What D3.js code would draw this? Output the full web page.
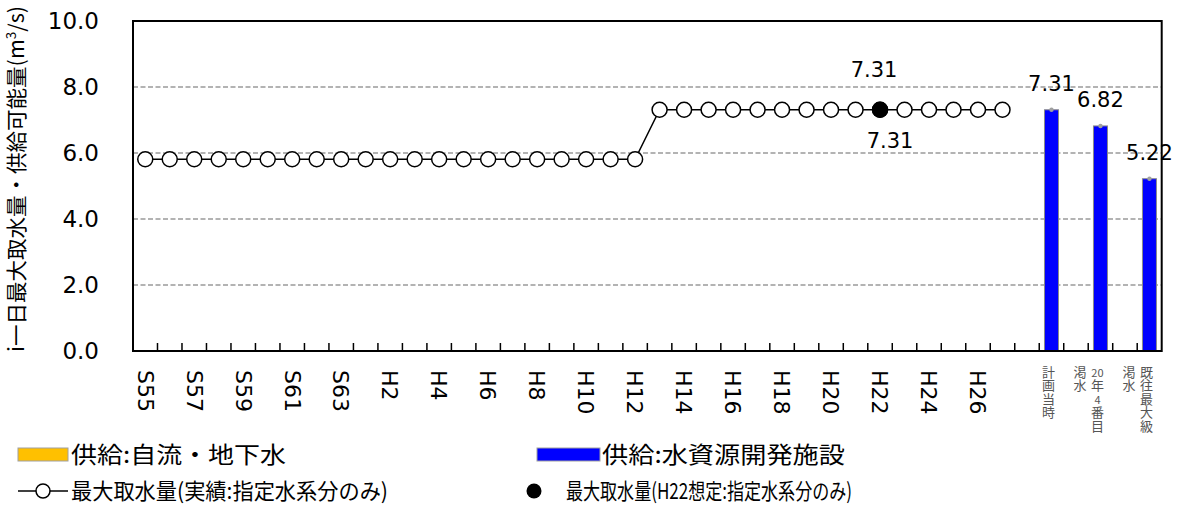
<!DOCTYPE html>
<html>
<head>
<meta charset="utf-8">
<script src="https://cdn.jsdelivr.net/npm/d3@7"></script>
<style>
  body { margin: 0; background: #fff; }
  svg { display: block; }
</style>
</head>
<body>
<div id="chart"></div>
<script>
// Water intake vs. supply capacity chart

var years = ["S55", "S56", "S57", "S58", "S59", "S60", "S61", "S62", "S63",
  "H1", "H2", "H3", "H4", "H5", "H6", "H7", "H8", "H9", "H10", "H11", "H12",
  "H13", "H14", "H15", "H16", "H17", "H18", "H19", "H20", "H21", "H22",
  "H23", "H24", "H25", "H26", "H27"];

var actualIntake = [5.81, 5.81, 5.81, 5.81, 5.81, 5.81, 5.81, 5.81, 5.81,
  5.81, 5.81, 5.81, 5.81, 5.81, 5.81, 5.81, 5.81, 5.81, 5.81, 5.81, 5.81,
  7.31, 7.31, 7.31, 7.31, 7.31, 7.31, 7.31, 7.31, 7.31, 7.31,
  7.31, 7.31, 7.31, 7.31, 7.31];

var assumedYear = "H22";
var assumedIntake = 7.31;

var supplyCats = ["計画当時", "20年4番目\n渇水", "既往最大級\n渇水"];
var supplyValues = [7.31, 6.82, 5.22];

var yTicks = [0, 2, 4, 6, 8, 10];

var legendItems = ["供給:自流・地下水", "供給:水資源開発施設",
  "最大取水量(実績:指定水系分のみ)", "最大取水量(H22想定:指定水系分のみ)"];

(function() {
  var W = 1179, H = 517;
  var left = 133, right = 1161.7, top = 21, bottom = 351;
  var numFont = "'DejaVu Sans', sans-serif";
  var jpFont = "'Noto Sans CJK JP', sans-serif";

  var svg = d3.select("#chart").append("svg")
    .attr("width", W)
    .attr("height", H);

  var domain = years.concat(["_g1", supplyCats[0], "_g2", supplyCats[1], "_g3", supplyCats[2]]);

  var x = d3.scaleBand().domain(domain).range([left, right]).padding(0);
  var y = d3.scaleLinear().domain([0, 10]).range([bottom, top]);
  var bw = x.bandwidth();
  var cx = function(k) { return x(k) + bw / 2; };

  // gridlines
  svg.append("g")
    .selectAll("line")
    .data(yTicks.filter(function(d) { return d > 0 && d < 10; }))
    .enter().append("line")
    .attr("x1", left).attr("x2", right)
    .attr("y1", function(d) { return y(d); })
    .attr("y2", function(d) { return y(d); })
    .attr("stroke", "#9a9a9a")
    .attr("stroke-width", 1.5)
    .attr("stroke-dasharray", "5,2.5");

  // y axis labels
  var yAxis = d3.axisLeft(y).tickValues(yTicks).tickFormat(d3.format(".1f"))
    .tickSize(0).tickPadding(34);
  var yg = svg.append("g")
    .attr("transform", "translate(" + left + ",0)")
    .call(yAxis);
  yg.select(".domain").remove();
  yg.selectAll("text")
    .attr("font-family", numFont)
    .attr("font-size", 23)
    .attr("fill", "#000");

  // x axis labels (years, every other)
  var xAxis = d3.axisBottom(x)
    .tickValues(years.filter(function(d, i) { return i % 2 === 0; }))
    .tickSize(0);
  var xg = svg.append("g")
    .attr("transform", "translate(0," + bottom + ")")
    .call(xAxis);
  xg.select(".domain").remove();
  xg.selectAll("text")
    .attr("font-family", numFont)
    .attr("font-size", 22)
    .attr("fill", "#000")
    .attr("text-anchor", "start")
    .attr("dy", "0.35em")
    .attr("transform", "translate(0,19) rotate(90)")
    .attr("x", 0).attr("y", 0);

  // bars
  svg.append("g")
    .selectAll("rect")
    .data(supplyValues)
    .enter().append("rect")
    .attr("x", function(d, i) { return cx(supplyCats[i]) - 7; })
    .attr("width", 14)
    .attr("y", function(d) { return y(d); })
    .attr("height", function(d) { return bottom - y(d); })
    .attr("fill", "#0000ff")
    .attr("stroke", "#8a8a8a")
    .attr("stroke-width", 1);

  svg.append("g")
    .selectAll("circle")
    .data(supplyValues)
    .enter().append("circle")
    .attr("cx", function(d, i) { return cx(supplyCats[i]); })
    .attr("cy", function(d) { return y(d); })
    .attr("r", 2.2)
    .attr("fill", "#a0a0a0");

  svg.append("g")
    .selectAll("text")
    .data(supplyValues)
    .enter().append("text")
    .attr("x", function(d, i) { return cx(supplyCats[i]); })
    .attr("y", function(d) { return y(d) - 26; })
    .attr("dy", "0.35em")
    .attr("text-anchor", "middle")
    .attr("font-family", numFont)
    .attr("font-size", 21)
    .text(function(d) { return d.toFixed(2); });

  // vertical category labels for bars (one text per line, stacked glyphs)
  supplyCats.forEach(function(cat) {
    var lines = cat.split("\n");
    lines.forEach(function(line, j) {
      var tokens = line.match(/\d+|./g);
      var colX = cx(cat) - 3 - j * 17.5;
      var t = svg.append("text")
        .attr("font-family", jpFont)
        .attr("font-size", 13)
        .attr("fill", "#555")
        .attr("text-anchor", "middle");
      tokens.forEach(function(tok, k) {
        t.append("tspan")
          .attr("x", colX)
          .attr("y", 377 + k * 13.4)
          .attr("font-size", /\d/.test(tok) ? 11 : 13)
          .text(tok);
      });
    });
  });

  // plot border
  svg.append("rect")
    .attr("x", left).attr("y", top)
    .attr("width", right - left).attr("height", bottom - top)
    .attr("fill", "none")
    .attr("stroke", "#000")
    .attr("stroke-width", 2);

  // x ticks at category boundaries
  svg.append("g")
    .selectAll("line")
    .data(domain.slice(1))
    .enter().append("line")
    .attr("x1", function(d) { return x(d); })
    .attr("x2", function(d) { return x(d); })
    .attr("y1", bottom)
    .attr("y2", bottom - 8)
    .attr("stroke", "#000")
    .attr("stroke-width", 1.5);

  // actual intake line
  var line = d3.line()
    .x(function(d, i) { return cx(years[i]); })
    .y(function(d) { return y(d); });

  svg.append("path")
    .datum(actualIntake)
    .attr("d", line)
    .attr("fill", "none")
    .attr("stroke", "#000")
    .attr("stroke-width", 1.5);

  svg.append("g")
    .selectAll("circle")
    .data(actualIntake)
    .enter().append("circle")
    .attr("cx", function(d, i) { return cx(years[i]); })
    .attr("cy", function(d) { return y(d); })
    .attr("r", 7.5)
    .attr("fill", "#fff")
    .attr("stroke", "#000")
    .attr("stroke-width", 1.5);

  svg.append("circle")
    .attr("cx", cx(assumedYear))
    .attr("cy", y(assumedIntake))
    .attr("r", 8.2)
    .attr("fill", "#000");

  var iA = years.indexOf(assumedYear);
  svg.append("text")
    .attr("x", cx(assumedYear) - 6)
    .attr("y", y(assumedIntake) - 40)
    .attr("dy", "0.35em")
    .attr("text-anchor", "middle")
    .attr("font-family", numFont)
    .attr("font-size", 21)
    .text(assumedIntake.toFixed(2));

  svg.append("text")
    .attr("x", cx(years[iA]) + 10)
    .attr("y", y(actualIntake[iA]) + 31)
    .attr("dy", "0.35em")
    .attr("text-anchor", "middle")
    .attr("font-family", numFont)
    .attr("font-size", 21)
    .text(actualIntake[iA].toFixed(2));

  // y axis title
  var yt = svg.append("text")
    .attr("transform", "translate(24,179) rotate(-90)")
    .attr("text-anchor", "middle")
    .attr("font-family", jpFont)
    .attr("font-size", 21)
    .attr("textLength", 346)
    .attr("lengthAdjust", "spacingAndGlyphs")
    .attr("fill", "#000");
  yt.append("tspan").text("i一日最大取水量・供給可能量(m");
  yt.append("tspan").attr("font-size", 13).attr("dy", -8).text("3");
  yt.append("tspan").attr("dy", 8).text("/s)");

  // legend
  var lg = svg.append("g")
    .attr("font-family", jpFont)
    .attr("fill", "#000");

  var legText = function(tx, ty, fs, len, s) {
    lg.append("text").attr("x", tx).attr("y", ty).attr("dy", "0.35em")
      .attr("font-size", fs)
      .attr("textLength", len).attr("lengthAdjust", "spacingAndGlyphs")
      .text(s);
  };

  lg.append("rect").attr("x", 18).attr("y", 448).attr("width", 50).attr("height", 13)
    .attr("fill", "#ffc000").attr("stroke", "#a0a0a0").attr("stroke-width", 1);
  legText(71, 455, 23, 215, legendItems[0]);

  lg.append("rect").attr("x", 537).attr("y", 448).attr("width", 63).attr("height", 13)
    .attr("fill", "#0000ff").attr("stroke", "#a0a0a0").attr("stroke-width", 1);
  legText(602, 455, 23, 243, legendItems[1]);

  lg.append("line").attr("x1", 18).attr("x2", 68).attr("y1", 491).attr("y2", 491)
    .attr("stroke", "#000").attr("stroke-width", 1.5);
  lg.append("circle").attr("cx", 43).attr("cy", 491).attr("r", 7)
    .attr("fill", "#fff").attr("stroke", "#000").attr("stroke-width", 1.5);
  legText(71, 491, 22, 317, legendItems[2]);

  lg.append("circle").attr("cx", 534).attr("cy", 491).attr("r", 7.5).attr("fill", "#000");
  legText(566, 491, 22, 286, legendItems[3]);
})();
</script>
</body>
</html>
